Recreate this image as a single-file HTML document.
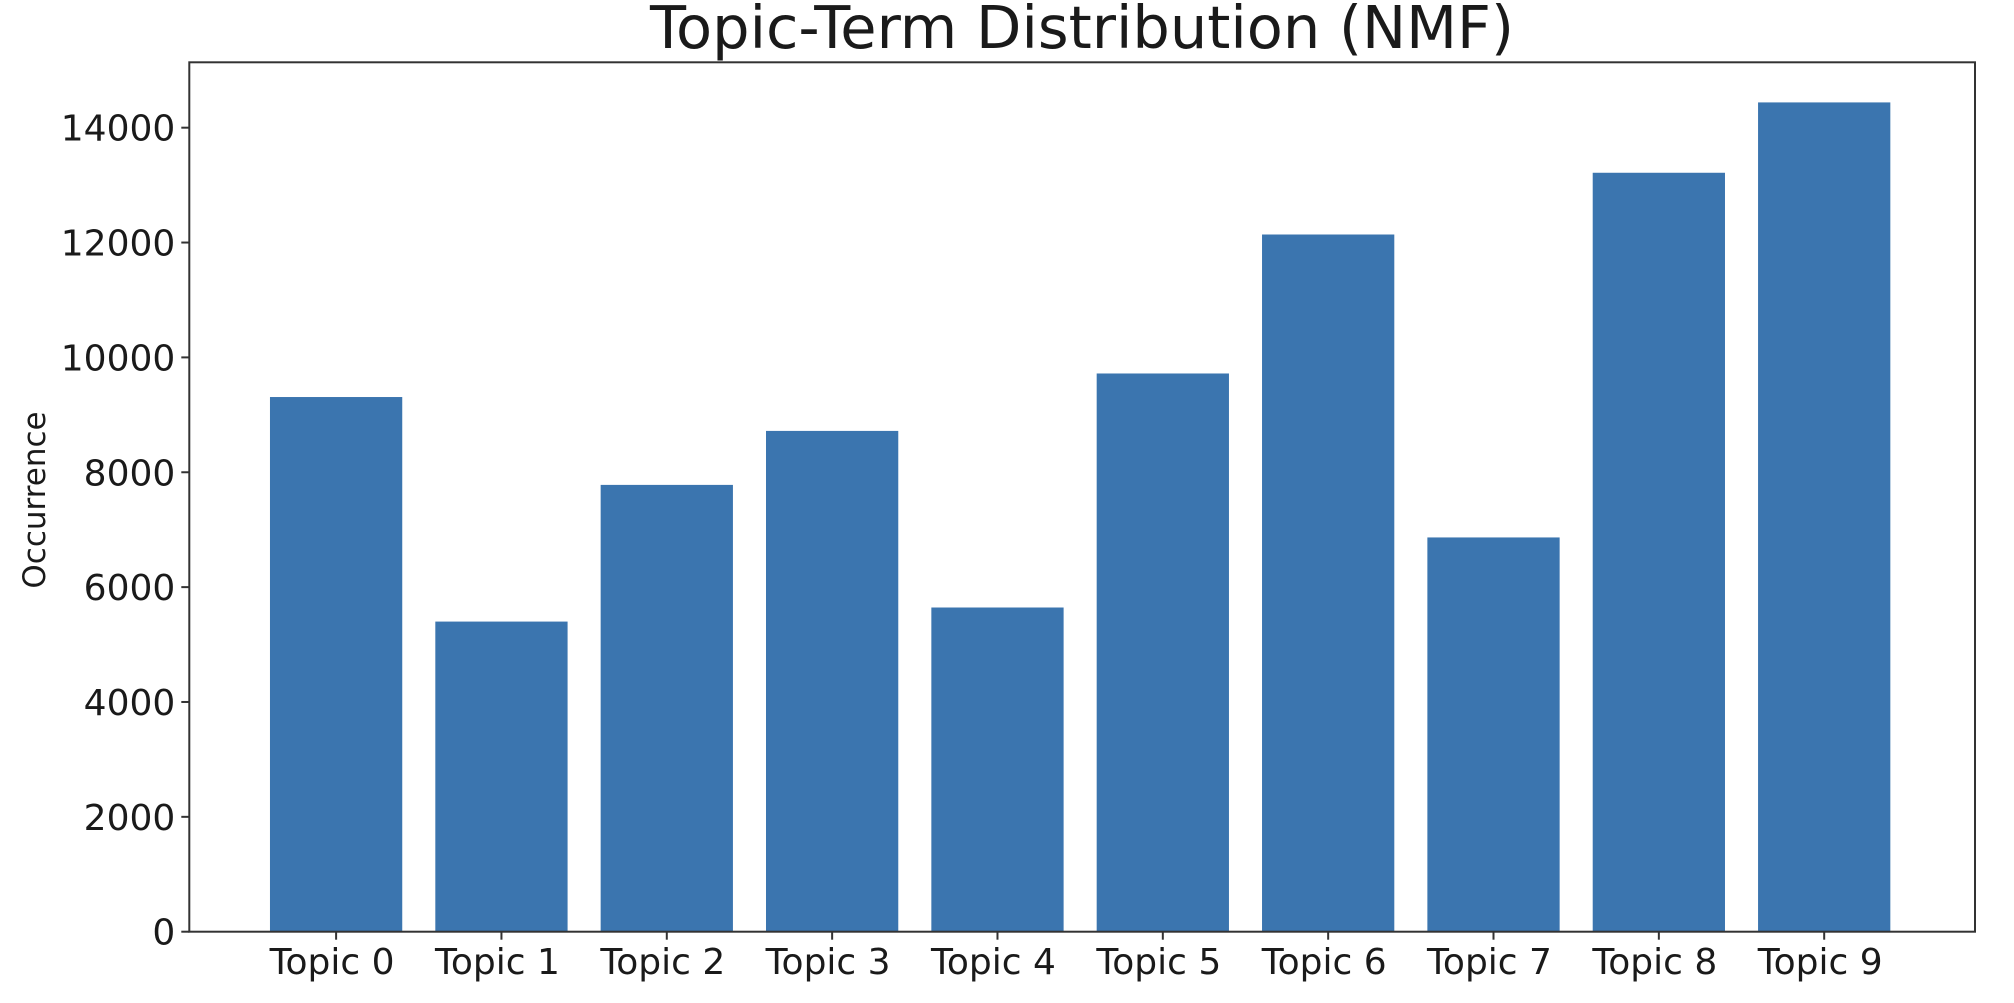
<!DOCTYPE html>
<html><head><meta charset="utf-8"><style>
html,body{margin:0;padding:0;background:#fff;}
svg text{font-family:"DejaVu Sans","Liberation Sans",sans-serif;fill:#1a1a1a;}
</style></head><body>
<svg id="chart" width="2014" height="998" viewBox="0 0 2014 998" xmlns="http://www.w3.org/2000/svg">
<text x="1082" y="48" font-size="59" text-anchor="middle">Topic-Term Distribution (NMF)</text>
<text transform="translate(45,500) rotate(-90)" font-size="31" text-anchor="middle">Occurrence</text>
<g id="bars"></g>
<g id="yticks"></g>
<g id="xticks"></g>
<rect x="189.3" y="62.3" width="1785.7" height="869.4" fill="none" stroke="#333" stroke-width="2"/>
</svg>
<script>
const categories = ["Topic 0","Topic 1","Topic 2","Topic 3","Topic 4","Topic 5","Topic 6","Topic 7","Topic 8","Topic 9"];
const values = [9310, 5400, 7780, 8720, 5645, 9720, 12140, 6865, 13215, 14440];
const yTicks = [0, 2000, 4000, 6000, 8000, 10000, 12000, 14000];

const L = 189.3, R = 1975, T = 62.3, B = 931.7;
const xMin = -0.9, xMax = 9.9;
const yPerUnit = 114.86 / 2000;
function xs(v){ return L + (v - xMin) / (xMax - xMin) * (R - L) - 2; }
function ys(v){ return B - v * yPerUnit; }
const NS = "http://www.w3.org/2000/svg";
const bars = document.getElementById('bars');
const yt = document.getElementById('yticks');
const xt = document.getElementById('xticks');

values.forEach((v, i) => {
  const r = document.createElementNS(NS, 'rect');
  const x0 = xs(i - 0.4), x1 = xs(i + 0.4);
  r.setAttribute('x', x0);
  r.setAttribute('width', x1 - x0);
  r.setAttribute('y', ys(v));
  r.setAttribute('height', B - ys(v));
  r.setAttribute('fill', '#3b75af');
  
  
  bars.appendChild(r);
});

yTicks.forEach(t => {
  const y = ys(t);
  const l = document.createElementNS(NS, 'line');
  l.setAttribute('x1', L - 8); l.setAttribute('x2', L);
  l.setAttribute('y1', y); l.setAttribute('y2', y);
  l.setAttribute('stroke', '#333'); l.setAttribute('stroke-width', '2');
  
  
  yt.appendChild(l);
  const tx = document.createElementNS(NS, 'text');
  tx.setAttribute('x', L - 14); tx.setAttribute('y', y + 13);
  tx.setAttribute('font-size', '36'); tx.setAttribute('text-anchor', 'end');
  tx.textContent = t;
  
  
  yt.appendChild(tx);
});

categories.forEach((c, i) => {
  const x = xs(i);
  const l = document.createElementNS(NS, 'line');
  l.setAttribute('x1', x); l.setAttribute('x2', x);
  l.setAttribute('y1', B); l.setAttribute('y2', B + 8);
  l.setAttribute('stroke', '#333'); l.setAttribute('stroke-width', '2');
  
  
  xt.appendChild(l);
  const tx = document.createElementNS(NS, 'text');
  tx.setAttribute('x', x - 4); tx.setAttribute('y', 974);
  tx.setAttribute('font-size', '36'); tx.setAttribute('text-anchor', 'middle');
  tx.textContent = c;
  
  
  xt.appendChild(tx);
});
</script>
</body></html>
